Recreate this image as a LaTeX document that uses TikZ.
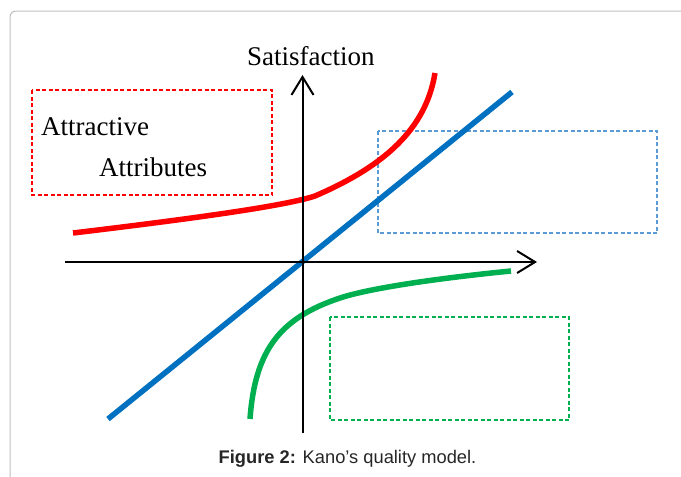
\documentclass[tikz,border=0pt]{standalone}
\usepackage{fontspec}
\setmainfont{Liberation Serif}
\setsansfont{Liberation Sans}
\usetikzlibrary{arrows.meta}
\definecolor{kanored}{RGB}{255,0,0}
\definecolor{kanoblue}{RGB}{0,112,192}
\definecolor{kanogreen}{RGB}{0,176,80}
\definecolor{boxblue}{RGB}{91,155,213}
\definecolor{framegray}{RGB}{190,190,190}
\begin{document}
\begin{tikzpicture}[x=1pt,y=-1pt,
  curve/.style={line width=5.5pt},
  dashbox/.style={line width=1.2pt,dash pattern=on 4pt off 2.5pt},
  axis/.style={line width=2pt,-{Straight Barb[length=18pt,width=22pt]}},
  label/.style={font=\fontsize{27}{32}\selectfont,inner sep=0pt}]
\useasboundingbox (0,0) rectangle (681,477);
\draw[framegray,line width=1pt,rounded corners=6pt] (10,477) -- (10,11) -- (681,11);
% dashed boxes
\draw[dashbox,kanored] (32,90) rectangle (272,195);
\draw[dashbox,boxblue] (378,131) rectangle (657,233);
\draw[dashbox,kanogreen] (330,317) rectangle (569,420);
\node[label,anchor=base west] (attr1) at (41,135) {Attractive};
\node[label,anchor=base west] (attr2) at (99,176) {Attributes};
% curves
\draw[curve,kanoblue] (108,419) -- (512,92);
\draw[curve,kanored] (73,233) .. controls (190,219) and (285,206) .. (315,196)
  .. controls (375,170) and (425,135) .. (435,73);
\draw[curve,kanogreen] (250,419) .. controls (255,350) and (280,318) .. (340,298)
  .. controls (370,288) and (440,278) .. (511,271);
% axes
\coordinate (O) at (302.5,262);
\draw[axis] (65,262) -- (537,262);
\draw[axis] (302.5,433) -- (302.5,75);
\node[label,anchor=base west] (sat) at (247,65) {Satisfaction};
\node[anchor=base,inner sep=0pt,text=black!85,font=\sffamily\fontsize{18.3}{22}\selectfont]
  (cap) at (347.5,463) {\textbf{Figure 2:} Kano’s quality model.};
\end{tikzpicture}
\end{document}
